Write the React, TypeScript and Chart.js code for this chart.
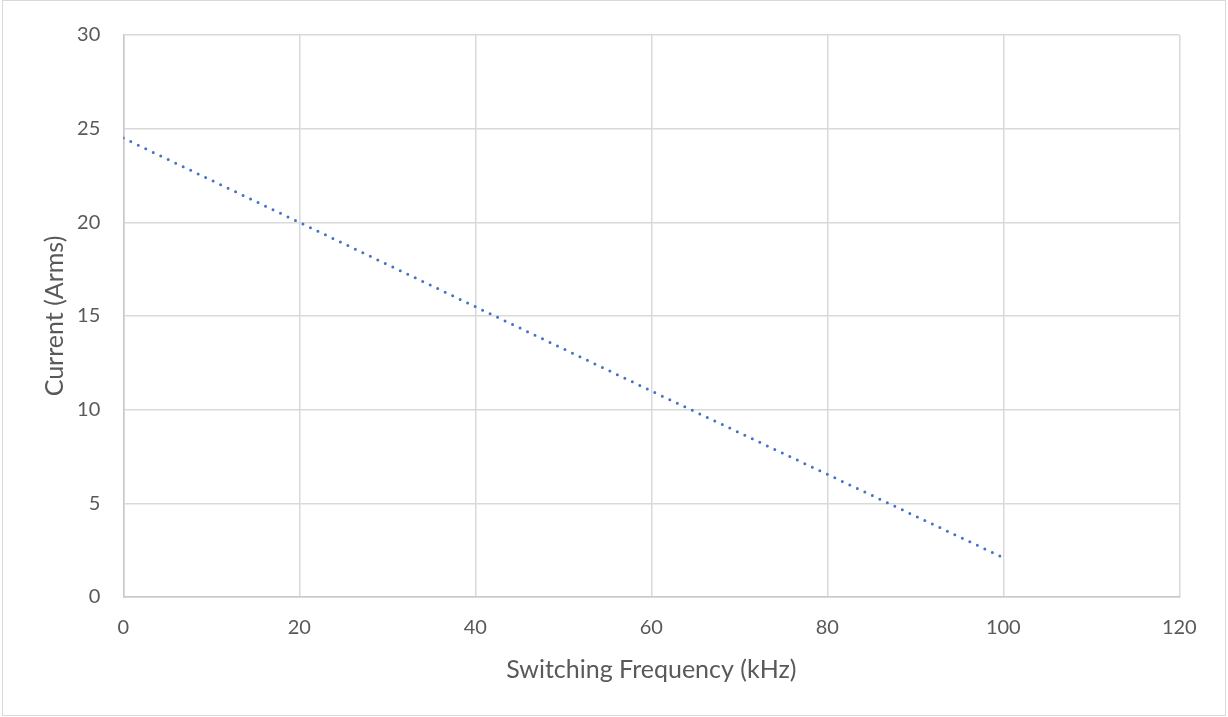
import React, { useEffect, useRef } from "react";
import { Chart, registerables } from "chart.js";

Chart.register(...registerables);

const frequencies = [0, 20, 40, 60, 80, 100];
const currents = [24.5, 20.0, 15.5, 11.0, 6.55, 2.1];
const xTitle = "Switching Frequency (kHz)";
const yTitle = "Current (Arms)";

const FONT = "Lato, 'Open Sans', sans-serif";

export default function App() {
  const ref = useRef<HTMLCanvasElement>(null);
  useEffect(() => {
    if (!ref.current) return;
    const chart = new Chart(ref.current, {
      type: "scatter",
      data: {
        datasets: [
          {
            data: frequencies.map((x, i) => ({ x, y: currents[i] })),
            showLine: true,
            borderColor: "#4472C4",
            borderWidth: 3,
            borderDash: [0, 8.3],
            borderCapStyle: "round",
            pointRadius: 0,
            fill: false,
          },
        ],
      },
      options: {
        animation: false,
        responsive: false,
        maintainAspectRatio: false,
        layout: { padding: { left: 0, top: 29.5, right: 48.7, bottom: 0 } },
        plugins: { legend: { display: false }, tooltip: { enabled: false } },
        scales: {
          x: {
            type: "linear",
            min: 0,
            max: 120,
            ticks: { stepSize: 20, color: "#595959", font: { family: FONT, size: 20 }, padding: 19, maxRotation: 0 },
            grid: { color: "#d9d9d9", lineWidth: 1.5, drawTicks: false },
            border: { color: "#c8c8c8", width: 1.5 },
            title: { display: true, text: xTitle, color: "#595959", font: { family: FONT, size: 25 }, padding: { top: 0, bottom: 32 } },
            afterFit: (s: any) => { s.height = 120; },
          },
          y: {
            min: 0,
            max: 30,
            ticks: { stepSize: 5, color: "#595959", font: { family: FONT, size: 20 }, padding: 23 },
            grid: { color: "#d9d9d9", lineWidth: 1.5, drawTicks: false },
            border: { color: "#c8c8c8", width: 1.5 },
            title: { display: true, text: yTitle, color: "#595959", font: { family: FONT, size: 25 }, padding: { top: 40, bottom: 0 } },
            afterFit: (s: any) => { s.width = 123.3; },
          },
        },
      },
    });
    return () => chart.destroy();
  }, []);
  return (
    <div style={{ position: "fixed", left: 0, top: 0, width: 1228, height: 717, background: "#fff" }}>
      <canvas ref={ref} width={1228} height={717} style={{ position: "absolute", left: 0, top: 0, width: 1228, height: 717 }} />
      <div style={{ position: "absolute", left: 2, top: 0, width: 1224, height: 716, border: "1.5px solid #d9d9d9", boxSizing: "border-box", pointerEvents: "none" }} />
    </div>
  );
}
